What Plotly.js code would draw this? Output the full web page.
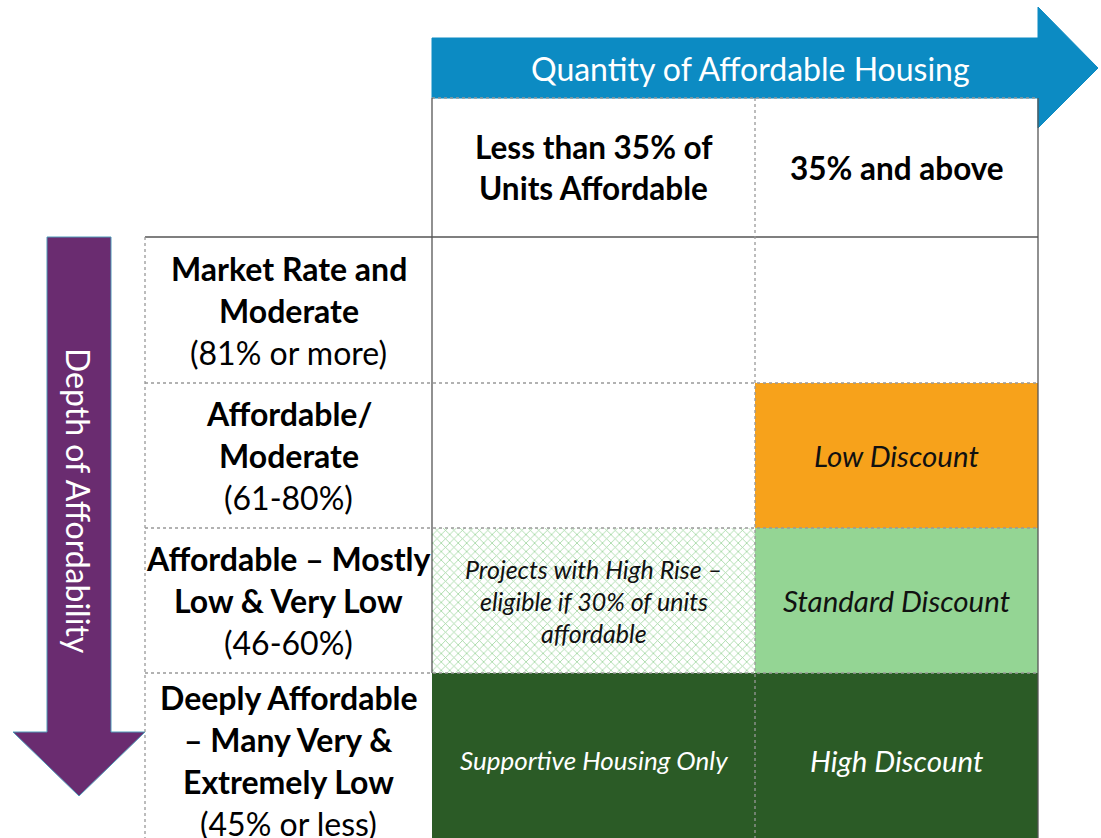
<!DOCTYPE html>
<html>
<head>
<meta charset="utf-8">
<script src="https://cdn.plot.ly/plotly-3.0.1.min.js"></script>
<style>html,body{margin:0;padding:0;background:#fff;}#chart{width:1101px;height:838px;}</style>
</head>
<body>
<div id="chart"></div>
<script>
// ---------- data ----------
const axisTitleX = "Quantity of Affordable Housing";
const axisTitleY = "Depth of Affordability";
const columnLabels = [["Less than 35% of", "Units Affordable"], ["35% and above"]];
const rowNames = [
  ["Market Rate and", "Moderate"],
  ["Affordable/", "Moderate"],
  ["Affordable – Mostly", "Low & Very Low"],
  ["Deeply Affordable", "– Many Very &", "Extremely Low"]
];
const rowRanges = ["(81% or more)", "(61-80%)", "(46-60%)", "(45% or less)"];
const cellText = [
  [[], []],
  [[], ["Low Discount"]],
  [["Projects with High Rise –", "eligible if 30% of units", "affordable"], ["Standard Discount"]],
  [["Supportive Housing Only"], ["High Discount"]]
];
// 0 none, 1 low, 2 standard, 3 high, 4 high-rise eligible (hatched)
const cellLevel = [
  [0, 0],
  [0, 1],
  [4, 2],
  [3, 3]
];

// ---------- layout constants (pixels) ----------
const W = 1101, H = 838;
const colEdges = [145, 432, 755, 1038];
const rowEdges = [98, 237, 383, 528, 673, 847];
const levelFill = {0: "#ffffff", 1: "#F7A21B", 2: "#94D594", 3: "#2B5B26", 4: "#ffffff"};
const levelText = {0: "#000", 1: "#111", 2: "#111", 3: "#ffffff", 4: "#111"};
const FONT = "Lato, 'Open Sans', sans-serif";

const traces = [];
const annotations = [];
const shapes = [];

// cells
for (let r = 0; r < rowNames.length; r++) {
  for (let c = 0; c < 2; c++) {
    const lv = cellLevel[r][c];
    const x0 = colEdges[c + 1], x1 = colEdges[c + 2];
    const y0 = rowEdges[r + 1], y1 = rowEdges[r + 2];
    const marker = {color: levelFill[lv], line: {width: 0}};
    if (lv === 4) {
      marker.pattern = {shape: "x", fgcolor: "#9fd69f", bgcolor: "#ffffff", size: 6, solidity: 0.25, fillmode: "replace"};
    }
    traces.push({
      type: "bar", x: [(x0 + x1) / 2], width: [x1 - x0], base: [y0], y: [y1 - y0],
      marker: marker, hoverinfo: "skip", showlegend: false
    });
    const lines = cellText[r][c];
    const fs = lines.length > 1 ? 25 : (lv === 3 && c === 0 ? 26 : 29.5);
    const gap = 32;
    const cy = (y0 + y1) / 2;
    lines.forEach((t, i) => {
      annotations.push({
        x: (x0 + x1) / 2, y: cy + (i - (lines.length - 1) / 2) * gap, xref: "x", yref: "y",
        text: "<i>" + t + "</i>", showarrow: false,
        font: {family: FONT, size: fs, color: levelText[lv]}
      });
    });
  }
}

// row labels
const lineGap = 42;
for (let r = 0; r < rowNames.length; r++) {
  const lines = rowNames[r].map(t => "<b>" + t + "</b>").concat([rowRanges[r]]);
  const cy = (rowEdges[r + 1] + rowEdges[r + 2]) / 2;
  const cx = (colEdges[0] + colEdges[1]) / 2;
  lines.forEach((t, i) => {
    annotations.push({
      x: cx, y: cy + (i - (lines.length - 1) / 2) * lineGap, xref: "x", yref: "y",
      text: t, showarrow: false, font: {family: FONT, size: 32, color: "#000"}
    });
  });
}

// column headers
for (let c = 0; c < columnLabels.length; c++) {
  const lines = columnLabels[c];
  const cy = (rowEdges[0] + rowEdges[1]) / 2;
  const cx = (colEdges[c + 1] + colEdges[c + 2]) / 2;
  lines.forEach((t, i) => {
    annotations.push({
      x: cx, y: cy + (i - (lines.length - 1) / 2) * 41, xref: "x", yref: "y",
      text: "<b>" + t + "</b>", showarrow: false, font: {family: FONT, size: 31.5, color: "#000"}
    });
  });
}

// arrows
shapes.push({type: "path", xref: "x", yref: "y", layer: "below",
  path: "M432,38 L1038,38 L1038,7 L1098,68 L1038,128 L1038,98 L432,98 Z",
  fillcolor: "#0C8BC3", line: {color: "#0C8BC3", width: 1}});
shapes.push({type: "path", xref: "x", yref: "y", layer: "below",
  path: "M47,237 L111,237 L111,732 L145,732 L79,796 L13,732 L47,732 Z",
  fillcolor: "#6A2C70", line: {color: "#4E9AB8", width: 1}});
annotations.push({x: 750, y: 68, xref: "x", yref: "y", text: axisTitleX, showarrow: false,
  font: {family: FONT, size: 32, color: "#ffffff"}});
annotations.push({x: 79, y: 501, xref: "x", yref: "y", text: axisTitleY, showarrow: false, textangle: 90,
  font: {family: FONT, size: 32, color: "#ffffff"}});

// grid lines
const solid = {color: "#555555", width: 1.3};
const dot = {color: "#999999", width: 1.3, dash: "dot"};
function ln(x0, y0, x1, y1, l) { shapes.push({type: "line", xref: "x", yref: "y", x0, y0, x1, y1, line: l, layer: "above"}); }
ln(colEdges[1], rowEdges[0], colEdges[3], rowEdges[0], dot);
ln(colEdges[0], rowEdges[1], colEdges[3], rowEdges[1], solid);
for (let r = 2; r <= 4; r++) ln(colEdges[0], rowEdges[r], colEdges[3], rowEdges[r], dot);
ln(colEdges[0], rowEdges[1], colEdges[0], H, dot);
ln(colEdges[1], rowEdges[0], colEdges[1], rowEdges[4], solid);
ln(colEdges[2], rowEdges[0], colEdges[2], H, dot);
ln(colEdges[3], rowEdges[0], colEdges[3], H, solid);

const layout = {
  width: W, height: H, margin: {l: 0, r: 0, t: 0, b: 0},
  paper_bgcolor: "#ffffff", plot_bgcolor: "#ffffff",
  barmode: "overlay", bargap: 0,
  xaxis: {range: [0, W], visible: false, fixedrange: true},
  yaxis: {range: [H, 0], visible: false, fixedrange: true},
  shapes: shapes, annotations: annotations, showlegend: false
};
Plotly.newPlot("chart", traces, layout, {staticPlot: true, displayModeBar: false});
</script>
</body>
</html>
